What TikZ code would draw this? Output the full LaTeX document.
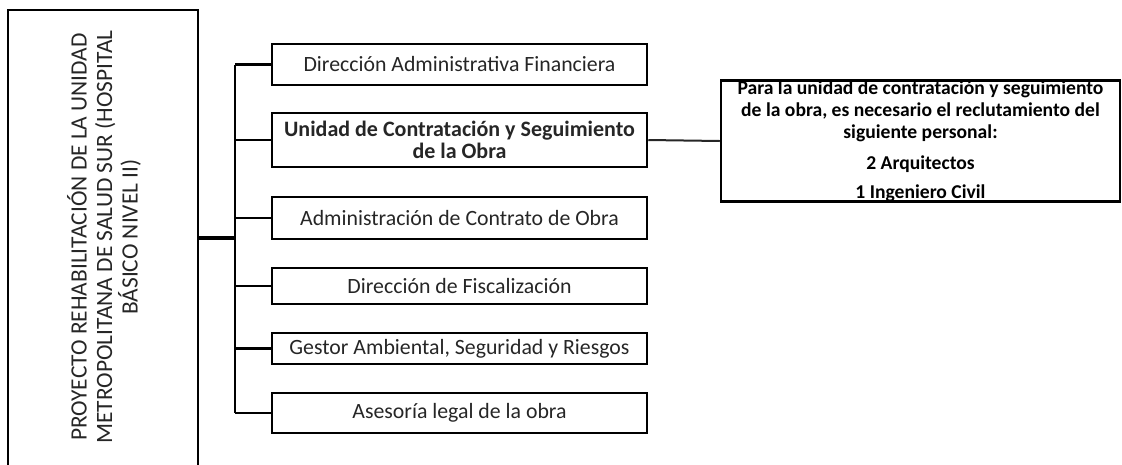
\documentclass[tikz,border=0pt]{standalone}
\usepackage{fontspec}
\setmainfont{Carlito}
\definecolor{txt}{gray}{0.15}
\tikzset{
  unitbox/.style={draw=black, line width=2.5pt, minimum width=375pt, inner sep=0pt, text=txt, align=center, font=\fontsize{21.8}{21}\selectfont},
  link/.style={draw=black, line width=2.5pt},
}
\begin{document}
\begin{tikzpicture}[x=1pt,y=-1pt]
\useasboundingbox (0,0) rectangle (1122,464);
\clip (0,0) rectangle (1122,464);
% project box (bottom runs off the page)
\node[draw=black, line width=2.5pt, minimum width=190pt, minimum height=470pt, inner sep=0pt] (proj) at (103,245) {};
\node[rotate=90, align=center, text=txt, font=\fontsize{23.4}{25.5}\selectfont] (projtxt) at (104,237)
  {PROYECTO REHABILITACIÓN DE LA UNIDAD\\METROPOLITANA DE SALUD SUR (HOSPITAL\\BÁSICO NIVEL II)};
% units
\node[unitbox, minimum height=41pt] (b1) at (459.5,64.5) {Dirección Administrativa Financiera};
\node[unitbox, minimum height=54pt, font=\fontsize{22}{21.5}\selectfont\bfseries] (b2) at (459.5,140) {Unidad de Contratación y Seguimiento\\de la Obra};
\node[unitbox, minimum height=42pt] (b3) at (459.5,218) {Administración de Contrato de Obra};
\node[unitbox, minimum height=36pt] (b4) at (459.5,286) {Dirección de Fiscalización};
\node[unitbox, minimum height=31pt] (b5) at (459.5,348.5) {Gestor Ambiental, Seguridad y Riesgos};
\node[unitbox, minimum height=40pt] (b6) at (459.5,413) {Asesoría legal de la obra};
% note box
\node[draw=black, line width=2.5pt, minimum width=399pt, minimum height=118pt, inner sep=0pt, align=center, text=black, font=\fontsize{19.6}{22}\selectfont\bfseries] (note) at (920.5,141)
  {Para la unidad de contratación y seguimiento\\de la obra, es necesario el reclutamiento del\\siguiente personal:\\[9pt]2 Arquitectos\\[7pt]1 Ingeniero Civil};
% trunk
\coordinate (tk) at (235,238);
\coordinate (ttop) at (235,64.5);
\coordinate (tbot) at (235,413);
\draw[link, line width=3.5pt] (proj.east |- tk) -- (tk);
\draw[link] (ttop) -- (tbot);
\foreach \b in {b1,b2,b3,b4,b5,b6}{
  \draw[link] (ttop |- \b.west) -- (\b.west);
}
\draw[draw=black!85, line width=2pt] (b2.east) -- (note.west);
\end{tikzpicture}
\end{document}
